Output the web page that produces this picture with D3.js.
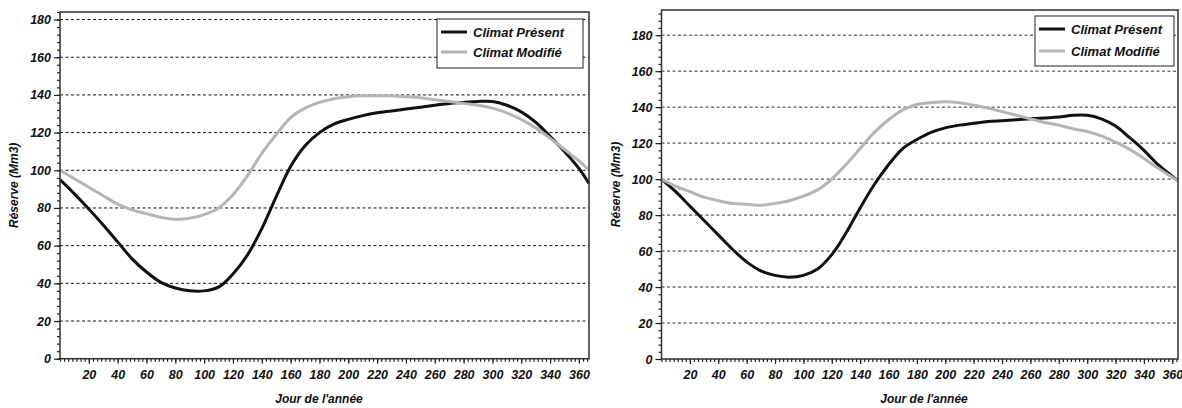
<!DOCTYPE html>
<html>
<head>
<meta charset="utf-8">
<script src="https://cdn.jsdelivr.net/npm/d3@7"></script>
<style>
  html, body { margin: 0; padding: 0; background: #fff; }
  svg { display: block; }
  text { font-family: "Liberation Sans", Arial, sans-serif; font-weight: bold; font-style: italic; }
</style>
</head>
<body>
<svg id="chart" width="1182" height="408"></svg>
<script>
// ---- data ----
const seriesNames = ["Climat Présent", "Climat Modifié"];
const yTicks = [0, 20, 40, 60, 80, 100, 120, 140, 160, 180];
const xTicks = [20, 40, 60, 80, 100, 120, 140, 160, 180, 200, 220, 240, 260, 280, 300, 320, 340, 360];

const daysLeft = [0, 10, 20, 30, 40, 50, 60, 70, 80, 90, 100, 110, 120, 130, 140, 150, 160, 170, 180,
  190, 200, 210, 220, 230, 240, 250, 260, 270, 280, 290, 300, 310, 320, 330, 340, 350, 360, 367];
const presentLeft = [95, 87.5, 79.5, 71, 62, 53, 46, 40.5, 37.5, 36, 36, 38, 45, 55, 69, 86, 102, 113, 120,
  124.5, 127, 129, 130.5, 131.5, 132.5, 133.5, 134.5, 135.5, 136, 136.5, 136.5, 134.5, 131, 125.5, 118, 110, 101, 93];
const modifiedLeft = [100, 95.5, 91, 86.5, 82, 79, 77, 75, 74, 74.5, 76.5, 80, 87, 97, 109, 119, 128, 133, 136,
  138, 139, 139.5, 139.5, 139.5, 139, 138.5, 137.5, 136.5, 135.5, 134.5, 133, 130.5, 127, 122.5, 117, 111, 105, 100];

const daysRight = [0, 10, 20, 30, 40, 50, 60, 70, 80, 90, 100, 110, 120, 130, 140, 150, 160, 170, 180,
  190, 200, 210, 220, 230, 240, 250, 260, 270, 280, 290, 300, 310, 320, 330, 340, 350, 364];
const presentRight = [100, 93, 85, 77, 69, 61, 54, 49, 46.5, 45.5, 46.5, 50, 58, 70, 84, 97, 108, 117, 122,
  126, 128.5, 130, 131, 132, 132.5, 133, 133.5, 134, 134.5, 135.5, 135.5, 133.5, 129.5, 123, 116, 108, 99];
const modifiedRight = [100, 96, 93, 90, 88, 86.5, 86, 85.5, 86.5, 88, 90.5, 94, 100, 108, 117, 126, 133, 138.5, 141.5,
  142.5, 143, 142.5, 141, 139.5, 137.5, 135.5, 133.5, 131.5, 130, 128, 126.5, 124, 120.5, 116.5, 111.5, 106, 99];

const panels = [
  { left: 60, right: 589, top: 12, bottom: 358.7, xMax: 367, yMax: 184,
    days: daysLeft, present: presentLeft, modified: modifiedLeft,
    legend: { x: 437, y: 19, w: 146, h: 49, gap: 20 }, yLabelX: 18, xLabelX: 319, gridColor: "#111" },
  { left: 661.5, right: 1178, top: 10, bottom: 359, xMax: 364, yMax: 194,
    days: daysRight, present: presentRight, modified: modifiedRight,
    legend: { x: 1035, y: 16, w: 139, h: 50, gap: 22 }, yLabelX: 620, xLabelX: 924, gridColor: "#333" }
];

const colors = ["#111111", "#b5b5b5"];

const svg = d3.select("#chart");

function drawPanel(p) {
  const g = svg.append("g");
  const x = d3.scaleLinear().domain([0, p.xMax]).range([p.left, p.right]);
  const y = d3.scaleLinear().domain([0, p.yMax]).range([p.bottom, p.top]);

  // dashed grid
  g.append("g")
    .selectAll("line")
    .data(yTicks.filter((v) => v > 0))
    .join("line")
    .attr("x1", p.left)
    .attr("x2", p.right)
    .attr("y1", (d) => y(d))
    .attr("y2", (d) => y(d))
    .attr("stroke", p.gridColor)
    .attr("stroke-width", 1)
    .attr("stroke-dasharray", "3,2.5");

  const line = d3.line()
    .x((d) => x(d[0]))
    .y((d) => y(d[1]))
    .curve(d3.curveCatmullRom.alpha(0.5));

  const series = [p.present, p.modified];
  series.forEach((vals, i) => {
    g.append("path")
      .datum(p.days.map((d, k) => [d, vals[k]]))
      .attr("fill", "none")
      .attr("stroke", colors[i])
      .attr("stroke-width", 3)
      .attr("stroke-linejoin", "round")
      .attr("d", line);
  });

  // frame
  g.append("rect")
    .attr("x", p.left)
    .attr("y", p.top)
    .attr("width", p.right - p.left)
    .attr("height", p.bottom - p.top)
    .attr("fill", "none")
    .attr("stroke", "#333")
    .attr("stroke-width", 1.5);

  // minor ticks
  const yMinor = d3.range(0, p.yMax + 0.01, 4);
  g.append("g")
    .attr("transform", `translate(${p.left},0)`)
    .call(d3.axisLeft(y).tickValues(yMinor).tickSize(3).tickFormat(""))
    .call((a) => a.select(".domain").remove())
    .selectAll("line").attr("stroke", "#222").attr("stroke-width", 1.2);

  const xMinor = d3.range(0, p.xMax + 0.01, 20 / 7);
  g.append("g")
    .attr("transform", `translate(0,${p.bottom})`)
    .call(d3.axisBottom(x).tickValues(xMinor).tickSize(3).tickFormat(""))
    .call((a) => a.select(".domain").remove())
    .selectAll("line").attr("stroke", "#222").attr("stroke-width", 1.2);

  // major ticks + labels
  const ya = g.append("g")
    .attr("transform", `translate(${p.left},0)`)
    .call(d3.axisLeft(y).tickValues(yTicks).tickSize(6).tickPadding(3));
  ya.select(".domain").remove();
  ya.selectAll("line").attr("stroke", "#222").attr("stroke-width", 1.2);
  ya.selectAll("text").attr("font-size", 12.5).attr("fill", "#111")
    .attr("font-family", "'Liberation Sans', Arial, sans-serif");

  const xa = g.append("g")
    .attr("transform", `translate(0,${p.bottom})`)
    .call(d3.axisBottom(x).tickValues(xTicks).tickSize(5).tickPadding(6));
  xa.select(".domain").remove();
  xa.selectAll("line").attr("stroke", "#222").attr("stroke-width", 1.2);
  xa.selectAll("text").attr("font-size", 12.5).attr("fill", "#111")
    .attr("font-family", "'Liberation Sans', Arial, sans-serif");

  // axis titles
  const cy = (p.top + p.bottom) / 2;
  g.append("text")
    .attr("x", p.yLabelX)
    .attr("y", cy)
    .attr("text-anchor", "middle")
    .attr("font-size", 12)
    .attr("fill", "#111")
    .attr("transform", `rotate(-90, ${p.yLabelX}, ${cy})`)
    .text("Réserve (Mm3)");

  g.append("text")
    .attr("x", p.xLabelX)
    .attr("y", 403)
    .attr("text-anchor", "middle")
    .attr("font-size", 12)
    .attr("fill", "#111")
    .text("Jour de l'année");

  // legend
  const L = p.legend;
  const lg = g.append("g").attr("transform", `translate(${L.x},${L.y})`);
  lg.append("rect")
    .attr("width", L.w)
    .attr("height", L.h)
    .attr("fill", "#fff")
    .attr("stroke", "#222")
    .attr("stroke-width", 1);
  seriesNames.forEach((name, i) => {
    const ly = 13 + i * L.gap;
    lg.append("line")
      .attr("x1", 4).attr("x2", 30)
      .attr("y1", ly).attr("y2", ly)
      .attr("stroke", colors[i])
      .attr("stroke-width", 3);
    lg.append("text")
      .attr("x", 36)
      .attr("y", ly + 4.5)
      .attr("font-size", 13)
      .attr("fill", "#111")
      .text(name);
  });
}

panels.forEach(drawPanel);
</script>
</body>
</html>
